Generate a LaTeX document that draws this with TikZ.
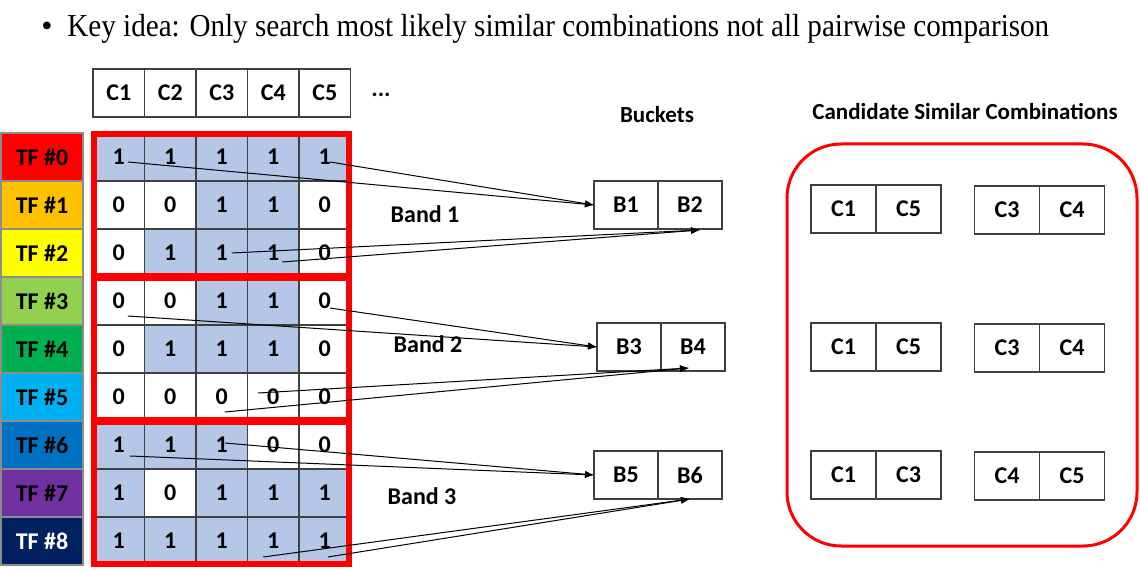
\documentclass[tikz,border=0pt]{standalone}
\usepackage{fontspec}
\setmainfont{Liberation Serif}
\newfontfamily\carlito{Carlito}
\usetikzlibrary{positioning,fit,arrows.meta}

\definecolor{bit1}{HTML}{B4C7E7}
\colorlet{bit0}{white}
\definecolor{tf0}{HTML}{FF0000}
\definecolor{tf1}{HTML}{FFC000}
\definecolor{tf2}{HTML}{FFFF00}
\definecolor{tf3}{HTML}{92D050}
\definecolor{tf4}{HTML}{00B050}
\definecolor{tf5}{HTML}{00B0F0}
\definecolor{tf6}{HTML}{0070C0}
\definecolor{tf7}{HTML}{7030A0}
\definecolor{tf8}{HTML}{002060}
\definecolor{bandred}{HTML}{FF0000}

\begin{document}
\begin{tikzpicture}[
  x=0.5pt, y=-0.5pt,
  font=\carlito\bfseries\fontsize{12}{14}\selectfont,
  cell/.style={draw=black!75, line width=0.6pt, minimum width=25.75pt,
               minimum height=24pt, inner sep=0pt, outer sep=0pt},
  tfbox/.style={cell, draw=black!45, minimum width=41pt},
  bktbox/.style={cell, minimum width=32pt},
  pairbox/.style={cell, minimum width=32.5pt},
  band/.style={draw=bandred, line width=3pt, inner sep=-0.6pt},
  arr/.style={-{Latex[length=4.5pt,width=3.5pt]}, line width=0.5pt},
  lbl/.style={font=\carlito\bfseries\fontsize{11.5}{14}\selectfont},
  ttl/.style={inner sep=0pt, font=\fontsize{16}{18}\selectfont},
]
\useasboundingbox (0,0) rectangle (1140,571);

%% ── title line ────────────────────────────────────────────────────
\node[ttl, anchor=base] (bullet) at (47,37) {•};
\node[ttl, anchor=base west] (title) at (67,37)
  {\scalebox{0.91}[1]{Key idea: Only search most likely similar combinations not all pairwise comparison}};

%% ── column header ─────────────────────────────────────────────────
\foreach \ci in {1,...,5}
  \node[cell] (h\ci) at ({118.75+51.5*(\ci-1)}, 93) {C\ci};
\node (dots) at (381,95) {...};

%% ── TF labels ─────────────────────────────────────────────────────
\foreach \k/\ink in {0/black,1/black,2/black,3/black,4/black,5/black,6/black,7/black,8/white}
  \node[tfbox, fill=tf\k, text=\ink] (tf\k) at (42, {157+48*\k}) {TF \#\k};

%% ── signature matrix ──────────────────────────────────────────────
\foreach \vals [count=\ri from 0] in
  {{1,1,1,1,1},{0,0,1,1,0},{0,1,1,1,0},
   {0,0,1,1,0},{0,1,1,1,0},{0,0,0,0,0},
   {1,1,1,0,0},{1,0,1,1,1},{1,1,1,1,1}}
  \foreach \v [count=\ci] in \vals
    \node[cell, fill=bit\v] (r\ri-\ci) at ({118.75+51.5*(\ci-1)}, {157+48*\ri}) {\v};

% bands
\node[band, fit=(r0-1)(r2-5)] (band1) {};
\node[band, fit=(r3-1)(r5-5)] (band2) {};
\node[band, fit=(r6-1)(r8-5)] (band3) {};
\node (lb1) at (425,214) {Band 1};
\node (lb2) at (428,344) {Band 2};
\node (lb3) at (422,496) {Band 3};

%% ── buckets ───────────────────────────────────────────────────────
\node[lbl] (bkt) at (657,115) {Buckets};
\node[bktbox] (B1) at (626,205) {B1};
\node[bktbox, right=0pt of B1] (B2) {B2};
\node[bktbox] (B3) at (629,347) {B3};
\node[bktbox, right=0pt of B3] (B4) {B4};
\node[bktbox] (B5) at (626,475) {B5};
\node[bktbox, right=0pt of B5] (B6) {B6};

%% arrows band 1
\draw[arr] ([xshift=4.6pt,yshift=-2.5pt]r0-1.center) -- (B1.west);
\draw[arr] ([xshift=2.6pt,yshift=-2.5pt]r0-5.center) -- (B1.west);
\draw[arr] ([xshift=5pt]r2-3.center) -- ([xshift=5pt,yshift=-0.5pt]B2.south);
\draw[arr] ([xshift=4.5pt,yshift=-4.5pt]r2-4.center) -- ([xshift=5pt,yshift=-0.5pt]B2.south);

%% arrows band 2
\draw[arr] ([xshift=2.6pt,yshift=-3.5pt]r3-5.center) -- (B3.west);
\draw[arr] ([xshift=4.6pt,yshift=-7.5pt]r3-1.center) -- (B3.west);
\draw[arr] ([xshift=-7.6pt,yshift=2pt]r5-4.center) -- ([xshift=-2pt,yshift=1.5pt]B4.south);
\draw[arr] ([xshift=1.6pt,yshift=-7.5pt]r5-3.center) -- ([xshift=-2pt,yshift=1.5pt]B4.south);

%% arrows band 3
\draw[arr] ([xshift=1.6pt,yshift=1pt]r6-3.center) -- (B5.west);
\draw[arr] ([xshift=5.6pt,yshift=-5.5pt]r6-1.center) -- (B5.west);
\draw[arr] ([xshift=-5pt,yshift=-8pt]r8-4.center) -- (B6.south);
\draw[arr] ([xshift=1.6pt,yshift=-8pt]r8-5.center) -- (B6.south);

%% ── candidate similar combinations ────────────────────────────────
\node[lbl] (cand) at (965,112) {Candidate Similar Combinations};
\node[draw=bandred, line width=1.5pt, rounded corners=27pt,
      minimum width=175pt, minimum height=201pt] (candbox) at (962,345) {};

\node[pairbox] (k1a) at (843.5,209) {C1};
\node[pairbox, right=0pt of k1a] (k1b) {C5};
\node[pairbox] (k2a) at (1007,210) {C3};
\node[pairbox, right=0pt of k2a] (k2b) {C4};
\node[pairbox] (k3a) at (843.5,347) {C1};
\node[pairbox, right=0pt of k3a] (k3b) {C5};
\node[pairbox] (k4a) at (1007,348) {C3};
\node[pairbox, right=0pt of k4a] (k4b) {C4};
\node[pairbox] (k5a) at (843.5,475) {C1};
\node[pairbox, right=0pt of k5a] (k5b) {C3};
\node[pairbox] (k6a) at (1007,476) {C4};
\node[pairbox, right=0pt of k6a] (k6b) {C5};

\end{tikzpicture}
\end{document}
